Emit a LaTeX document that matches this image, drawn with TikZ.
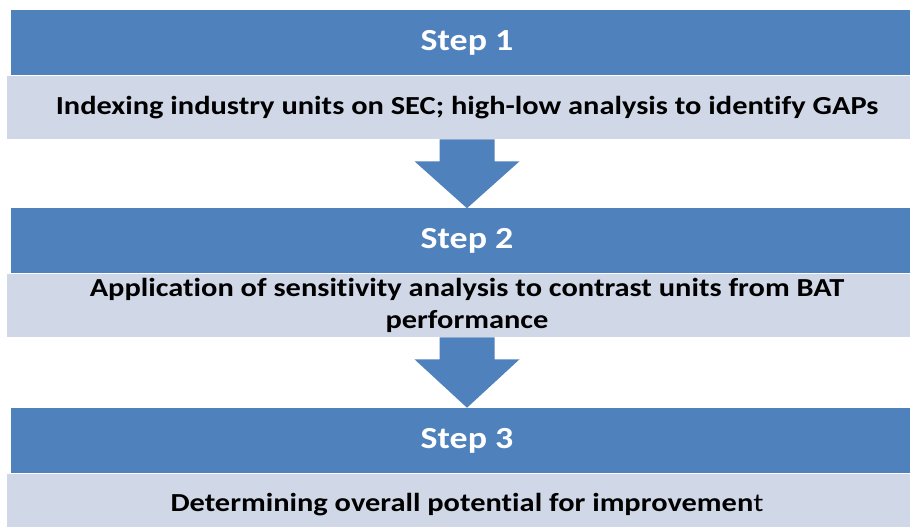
\documentclass[tikz,border=0pt]{standalone}
\usepackage{fontspec}
\setmainfont{Carlito}[FakeStretch=1.17, Ligatures=NoCommon]
\usetikzlibrary{positioning, calc}
\definecolor{stepblue}{RGB}{79, 129, 189}
\definecolor{desclight}{RGB}{208, 216, 232}
\tikzset{
    stepbar/.style={rectangle, fill=stepblue, text=white, minimum width=684pt, minimum height=48.75pt, inner sep=0pt, font=\fontsize{23}{28}\selectfont\bfseries},
    descbar/.style={rectangle, fill=desclight, text=black, minimum width=690pt, minimum height=47.25pt, inner sep=0pt, align=center, font=\fontsize{19.5}{23.5}\selectfont\bfseries},
    flowarrow/.style={fill=stepblue},
}
\begin{document}
\begin{tikzpicture}[x=0.75pt, y=-0.75pt]
    \useasboundingbox[fill=white] (0,0) rectangle (910,527);

    % Step 1
    \node[stepbar] (step1) at (467,43) {Step 1};
    \node[descbar, below=0pt of step1] (desc1)
          {Indexing industry units on SEC; high-low analysis to identify GAPs};

    % Step 2
    \node[stepbar] (step2) at (467,241) {Step 2};
    \node[descbar, below=0pt of step2] (desc2)
          {Application of sensitivity analysis to contrast units from BAT\\performance};

    % Step 3
    \node[stepbar] (step3) at (467,440.5) {Step 3};
    \node[descbar, below=0pt of step3] (desc3)
          {Determining overall potential for improvemen{\mdseries t}};

    % Block arrows between steps
    \foreach \from/\to in {desc1/step2, desc2/step3} {
        \fill[flowarrow] ($(\from.south)+(-27.5,0)$) -- ($(\from.south)+(27.5,0)$)
              -- ($(\from.south)+(27.5,22)$) -- ($(\from.south)+(52.5,22)$)
              -- (\to.north)
              -- ($(\from.south)+(-52.5,22)$) -- ($(\from.south)+(-27.5,22)$) -- cycle;
    }
\end{tikzpicture}
\end{document}
